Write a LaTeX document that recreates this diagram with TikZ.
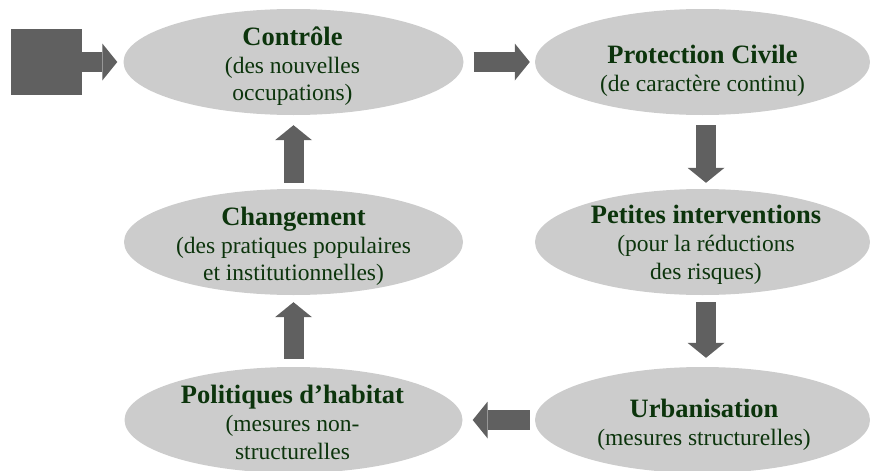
\documentclass[tikz,border=0pt]{standalone}
\usepackage{fontspec}
\setmainfont{Liberation Serif}
\usetikzlibrary{arrows.meta,shapes.geometric}
\definecolor{elgrey}{RGB}{204,204,204}
\definecolor{argrey}{RGB}{96,96,96}
\definecolor{txtgreen}{RGB}{12,52,12}
\tikzset{
  bubble/.style={ellipse, fill=elgrey, inner sep=0pt, minimum width=#1, minimum height=106pt},
  bubble/.default=338pt,
  bubbletext/.style={anchor=north, inner sep=0pt, align=center, text=txtgreen,
    font=\fontsize{23.5}{27.5}\selectfont},
  blockarrow/.style={draw=argrey, line width=20pt,
    -{Triangle[length=15pt 0 0, width=37pt 0 0, line width=0pt 0 0]}},
  squarebox/.style={fill=argrey, inner sep=0pt, minimum width=71pt, minimum height=66pt},
}
\newcommand{\bubblehead}[1]{\rule{0pt}{21pt}{\fontsize{26.5}{27.5}\selectfont\bfseries #1}}
\begin{document}
\begin{tikzpicture}[x=1pt,y=-1pt]
\useasboundingbox (0,0) rectangle (870,471);
% ellipses
\node[bubble=340pt] (E1) at (293.5,62) {};
\node[bubble=335pt] (E2) at (702.5,62) {};
\node[bubble=335pt] (E3) at (702.5,242) {};
\node[bubble=335pt] (E4) at (702.5,420) {};
\node[bubble=338pt] (E5) at (293.5,420) {};
\node[bubble=339pt] (E6) at (293.5,242) {};
\node[squarebox] (sq) at (46,62) {};
% texts
\node[bubbletext] (T1) at (292.5,24) {\bubblehead{Contrôle}\\[0.5pt] (des nouvelles\\ occupations)};
\node[bubbletext] (T2) at (702.5,42) {\bubblehead{Protection Civile}\\[1pt] (de caractère continu)};
\node[bubbletext] (T3) at (706,202) {\bubblehead{Petites interventions}\\[1pt] (pour la réductions\\ des risques)};
\node[bubbletext] (T4) at (704,396) {\bubblehead{Urbanisation}\\[0.5pt] (mesures structurelles)};
\node[bubbletext] (T5) at (292.5,382) {\bubblehead{Politiques d’habitat}\\[1pt] (mesures non-\\ structurelles};
\node[bubbletext] (T6) at (293.5,204) {\bubblehead{Changement}\\[0.5pt] (des pratiques populaires\\ et institutionnelles)};
% arrows
\draw[blockarrow, shorten >=6pt] (sq.east) -- (E1.west);
\draw[blockarrow, shorten <=10pt, shorten >=5pt] (E1.east) -- (E2.west);
\draw[blockarrow, shorten <=10pt, shorten >=6pt] ([xshift=3.5pt]E2.south) -- ([xshift=3.5pt]E3.north);
\draw[blockarrow, shorten <=7pt, shorten >=9pt] ([xshift=3.5pt]E3.south) -- ([xshift=3.5pt]E4.north);
\draw[blockarrow, shorten <=5pt, shorten >=10pt] (E4.west) -- (E5.east);
\draw[blockarrow, shorten <=8pt, shorten >=7pt] (E5.north) -- (E6.south);
\draw[blockarrow, shorten <=6pt, shorten >=10pt] (E6.north) -- (E1.south);
\end{tikzpicture}
\end{document}
